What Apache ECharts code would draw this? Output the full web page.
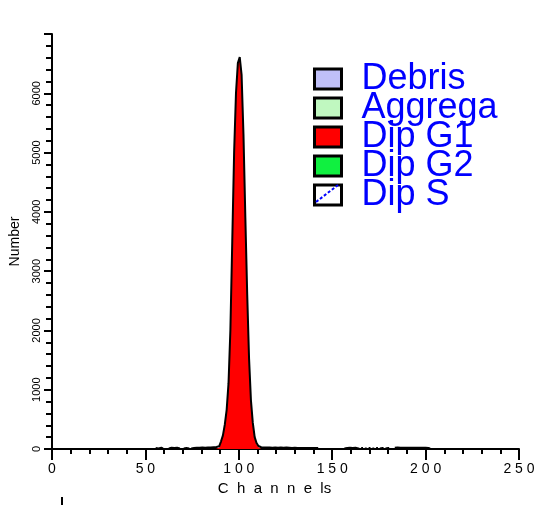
<!DOCTYPE html>
<html>
<head>
<meta charset="utf-8">
<script src="https://cdn.jsdelivr.net/npm/echarts@6/dist/echarts.min.js"></script>
<style>
	html, body { margin: 0; padding: 0; background: #ffffff; }
	#chart-histogram { width: 549px; height: 505px; }
</style>
</head>
<body>
<div id="chart-histogram" class="echart-histogram"></div>
<script>
// legend entries (model components)
var legendNames = ['Debris', 'Aggregates', 'Dip G1', 'Dip G2', 'Dip S'];
var legendColors = ['#c0c0f8', '#c0f8c0', '#ff0000', '#10f040', '#ffffff'];

// raw histogram, one value per channel, starting at channel 55 (null = empty channel)
var totalStart = 55;
var totalCounts = [
	null, 15, 10, 20, 10, null, null, null,
	10, 20, 15, 10, 20, 10, null, null,
	10, 15, 10, null,
	10, 15, 20, 15, 20, 25, 20, 20, 25, 30, 25, 30, 30,
	35, 45, 60, 130, 230, 410, 660, 1110, 2010, 3510, 5010, 6010, 6510,
	6610, 6310, 5310, 3910, 2610, 1520, 820, 440, 200, 100, 50, 30, 25,
	30, 25, 25, 30, 20, 25, 25, 20, 25, 20, 20, 25, 20, 20, 15,
	20, 20, 15, 20, 15, 15, 20, 15, 15, 20, 15, 15, 20, 15,
	null, null, null, null, null, null, null, null, null, null, null, null, null, null,
	10, 15, 20, 10, 15, 20, 10,
	10, null, 15, null, 10, null, 15, null,
	10, null, 15, null, 10, 15, null, 10, 15,
	null, null, null,
	20, 25, 20, 25, 20, 20, 25, 20, 20, 25, 20, 20, 15, 20, 20, 15, 20, 15, 10,
	null, null, null
];

// fitted Dip G1 component, starting at channel 88
var dipG1Start = 88;
var dipG1Counts = [
	5, 20, 40, 120, 220, 400, 650, 1100, 2000, 3500, 5000, 6000, 6500,
	6600, 6300, 5300, 3900, 2600, 1500, 800, 420, 180, 80, 30, 10, 5
];

// axes
var xMin = 0, xMax = 250, xStep = 50;
var yMin = 0, yMax = 7000, yStep = 1000;

function toPairs(start, counts) {
	var out = [];
	for (var i = 0; i < counts.length; i++) {
		out.push([start + i, counts[i] == null ? '-' : counts[i]]);
	}
	return out;
}

function spaced(str) {
	return String(str).split('').join(' ');
}

function generateHistogram() {
	var el = document.getElementById('chart-histogram');
	var chart = echarts.init(el, null, { renderer: 'canvas' });

	var legendData = [];
	for (var i = 0; i < legendNames.length; i++) {
		legendData.push({
			name: legendNames[i],
			icon: 'rect',
			itemStyle: { color: legendColors[i], borderColor: '#000000', borderWidth: 3 }
		});
	}

	var option = {
		animation: false,
		backgroundColor: '#ffffff',
		textStyle: { fontFamily: 'Liberation Sans, Arial, sans-serif' },
		grid: { left: 50, right: 30, top: 34, bottom: 56 },
		legend: {
			orient: 'vertical',
			left: 308,
			top: 56,
			itemWidth: 27,
			itemHeight: 20,
			itemGap: -7,
			selectedMode: false,
			data: legendData,
			textStyle: {
				color: '#0000ff',
				fontSize: 36,
				lineHeight: 29,
				width: 140,
				overflow: 'truncate',
				ellipsis: '',
				padding: [0, 0, 0, 15]
			}
		},
		xAxis: {
			type: 'value',
			min: xMin,
			max: xMax,
			interval: xStep,
			name: 'C  h  a  n  n  e  ls',
			nameLocation: 'middle',
			nameGap: 27,
			nameTextStyle: { color: '#000000', fontSize: 15, padding: [0, 22, 0, 0] },
			axisLine: { lineStyle: { color: '#000000', width: 2 } },
			axisTick: { length: 11, lineStyle: { color: '#000000', width: 2 } },
			minorTick: { show: true, splitNumber: 5, length: 5, lineStyle: { color: '#000000', width: 2 } },
			axisLabel: {
				color: '#000000',
				fontSize: 14,
				margin: 13,
				formatter: function (v) { return spaced(v); }
			},
			splitLine: { show: false }
		},
		yAxis: {
			type: 'value',
			min: yMin,
			max: yMax,
			interval: yStep,
			name: 'Number',
			nameLocation: 'middle',
			nameGap: 30,
			nameRotate: 90,
			nameTextStyle: { color: '#000000', fontSize: 14 },
			axisLine: { show: true, lineStyle: { color: '#000000', width: 2 } },
			axisTick: { show: true, length: 8, lineStyle: { color: '#000000', width: 2 } },
			minorTick: { show: true, splitNumber: 5, length: 6, lineStyle: { color: '#000000', width: 2 } },
			axisLabel: {
				color: '#000000',
				fontSize: 11,
				rotate: 90,
				margin: 10,
				showMaxLabel: false,
				formatter: function (v) { return String(v); }
			},
			splitLine: { show: false }
		},
		series: [
			{ name: 'Debris', type: 'line', data: [] },
			{ name: 'Aggregates', type: 'line', data: [] },
			{
				name: 'Dip G1',
				type: 'line',
				step: 'middle',
				symbol: 'none',
				data: toPairs(dipG1Start, dipG1Counts),
				lineStyle: { width: 0 },
				itemStyle: { color: '#ff0000' },
				areaStyle: { color: '#ff0000', opacity: 1 },
				z: 2
			},
			{ name: 'Dip G2', type: 'line', data: [] },
			{ name: 'Dip S', type: 'line', data: [] },
			{
				name: 'Total',
				type: 'line',
				step: 'middle',
				symbol: 'none',
				data: toPairs(totalStart, totalCounts),
				lineStyle: { color: '#000000', width: 2 },
				itemStyle: { color: '#000000' },
				z: 3
			}
		],
		graphic: [
			{
				type: 'line',
				shape: { x1: 316, y1: 202, x2: 338, y2: 185 },
				style: { stroke: '#0000ff', lineWidth: 2, lineDash: [3, 2] },
				z: 100
			},
			{
				type: 'rect',
				shape: { x: 61, y: 497, width: 2, height: 8 },
				style: { fill: '#000000' }
			}
		]
	};
	chart.setOption(option);
}

generateHistogram();
</script>
</body>
</html>
